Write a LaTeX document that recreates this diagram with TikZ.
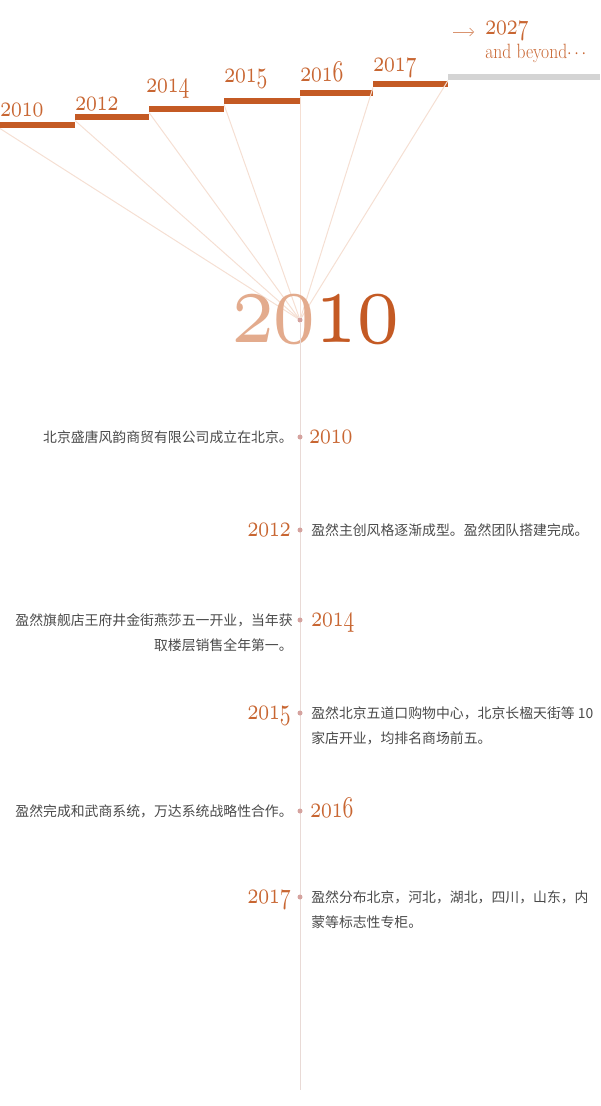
\documentclass[tikz,border=0pt]{standalone}
\usepackage{fontspec}
\newfontfamily\cjk{Noto Sans CJK SC}
\usetikzlibrary{arrows.meta, positioning}

\definecolor{rust}{HTML}{C45A24}
\definecolor{yearc}{HTML}{C86632}
\definecolor{peach}{HTML}{E3AB8D}
\definecolor{raycol}{HTML}{F5DFD3}
\definecolor{axiscol}{HTML}{E9DAD6}
\definecolor{dotcol}{HTML}{D5A39F}
\definecolor{notegray}{HTML}{4A4A4A}
\definecolor{later}{HTML}{D4D4D4}

% old-style figures from cmmi
\font\yrfont=cmmi10 at 22.5pt
\font\bigyrfont=cmmi10 at 80pt
\newcommand{\yr}[1]{\scalebox{0.72}[1]{\yrfont #1}}
\newcommand{\bigyr}[1]{\scalebox{0.78}[1]{\bigyrfont #1}}
\def\px{0.75pt}

\begin{document}
\begin{tikzpicture}[
    x=0.75pt, y=-0.75pt,
    bar/.style={fill=#1, inner sep=0pt, minimum height=6*\px, anchor=north west},
    year/.style={text=yearc, inner sep=0pt},
    note/.style={text=notegray, inner sep=0pt, font=\cjk\fontsize{10.4pt}{18.75pt}\selectfont},
    ray/.style={draw=raycol, line width=0.75pt},
    dot/.style={circle, fill=dotcol, inner sep=0pt, minimum size=5*\px}
]
\useasboundingbox (0,0) rectangle (600,1106);

% Steps
\node[bar=rust, minimum width=75*\px] (b2010) at (0,122) {};
\node[bar=rust, minimum width=74*\px] (b2012) at (75,114) {};
\node[bar=rust, minimum width=75*\px] (b2014) at (149,106) {};
\node[bar=rust, minimum width=76*\px] (b2015) at (224,98) {};
\node[bar=rust, minimum width=73*\px] (b2016) at (300,90) {};
\node[bar=rust, minimum width=75*\px] (b2017) at (373,81) {};
\node[bar=later, minimum width=152*\px] (b2027) at (448,74) {};

\node[year, anchor=base west] (t2010) at (0,117) {\yr{2010}};
\node[year, anchor=base west] (t2012) at (75,110) {\yr{2012}};
\node[year, anchor=base west] (t2014) at (146,93) {\yr{2014}};
\node[year, anchor=base west] (t2015) at (224,83) {\yr{2015}};
\node[year, anchor=base west] (t2016) at (300,82) {\yr{2016}};
\node[year, anchor=base west] (t2017) at (373,71) {\yr{2017}};
\node[year, anchor=base west] (t2027) at (485,35) {\yr{2027}};
\node[year, anchor=base west] (beyond) at (485,59) {\scalebox{0.85}[1]{\fontsize{15.5pt}{18pt}\selectfont and beyond$\cdots$}};

\coordinate (arrfrom) at (453,32);
\coordinate (arrto) at (474,32);
\draw[-{Straight Barb[length=3pt]}, draw=yearc!70, line width=0.5pt] (arrfrom) -- (arrto);

% Fan
\node[dot] (hub) at (300,320) {};
\draw[ray] (b2010.south west) -- (hub);
\draw[ray] (b2012.south west) -- (hub);
\draw[ray] (b2014.south west) -- (hub);
\draw[ray] (b2015.south west) -- (hub);
\draw[ray] (b2016.south west) -- (hub);
\draw[ray] (b2017.south west) -- (hub);
\draw[ray] (b2027.south west) -- (hub);

\node[anchor=base west, inner sep=0pt] (big) at (232,342) {\bigyr{\textcolor{peach}{20}\textcolor{rust}{10}}};

% Axis
\coordinate (axisend) at (300,1090);
\draw[draw=axiscol, line width=0.75pt] (hub) -- (axisend);

% Events
\node[dot] (d2010) at (300,437) {};
\node[note, anchor=base east] (n2010) at (293,442) {北京盛唐风韵商贸有限公司成立在北京。};
\node[year, anchor=base west] (y2010) at (309,443.5) {\yr{2010}};

\node[dot] (d2012) at (300,530) {};
\node[year, anchor=base east] (y2012) at (291,536.5) {\yr{2012}};
\node[note, anchor=base west] (n2012) at (311,535) {盈然主创风格逐渐成型。盈然团队搭建完成。};

\node[dot] (d2014) at (300,620) {};
\node[note, anchor=base east, align=right] (n2014) at (293,650) {盈然旗舰店王府井金街燕莎五一开业，当年获\\取楼层销售全年第一。};
\node[year, anchor=base west] (y2014) at (311,626.5) {\yr{2014}};

\node[dot] (d2015) at (300,713) {};
\node[year, anchor=base east] (y2015) at (291,719.5) {\yr{2015}};
\node[note, anchor=base west, align=left] (n2015) at (311,743) {盈然北京五道口购物中心，北京长楹天街等 10\\家店开业，均排名商场前五。};

\node[dot] (d2016) at (300,811) {};
\node[note, anchor=base east] (n2016) at (293,816) {盈然完成和武商系统，万达系统战略性合作。};
\node[year, anchor=base west] (y2016) at (310,817.5) {\yr{2016}};

\node[dot] (d2017) at (300,897) {};
\node[year, anchor=base east] (y2017) at (291,903.5) {\yr{2017}};
\node[note, anchor=base west, align=left] (n2017) at (311,927) {盈然分布北京，河北，湖北，四川，山东，内\\蒙等标志性专柜。};

\end{tikzpicture}
\end{document}
